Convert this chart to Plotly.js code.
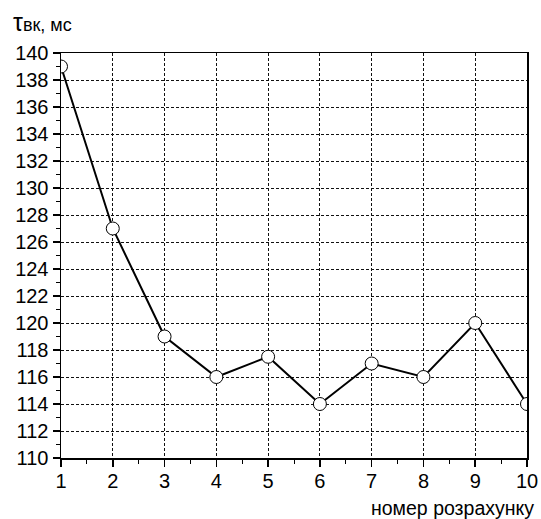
<!DOCTYPE html>
<html>
<head>
<meta charset="utf-8">
<script src="https://cdn.plot.ly/plotly-3.0.1.min.js"></script>
<style>
  html, body { margin: 0; padding: 0; background: #fff; }
  #chart { width: 541px; height: 519px; }
</style>
</head>
<body>
<div id="chart"></div>
<script>
// Calculation number and the corresponding τвк value (ms)
const calcNumber = [1, 2, 3, 4, 5, 6, 7, 8, 9, 10];
const tauMs = [139, 127, 119, 116, 117.5, 114, 117, 116, 120, 114];

const xTitle = 'номер розрахунку';
const yTitle = '<span style="font-size:25px">τ</span>вк, мс';

const font = 'Liberation Sans, Arial, sans-serif';

const trace = {
  x: calcNumber,
  y: tauMs,
  type: 'scatter',
  mode: 'lines+markers',
  line: { color: '#000', width: 2 },
  marker: {
    symbol: 'circle',
    size: 13,
    color: '#fff',
    line: { color: '#000', width: 1 }
  },
  cliponaxis: true,
  hoverinfo: 'skip'
};

const axisCommon = {
  showline: true,
  linecolor: '#000',
  linewidth: 1.5,
  mirror: true,
  ticks: 'outside',
  ticklen: 7,
  tickwidth: 1.5,
  tickcolor: '#000',
  showgrid: true,
  gridcolor: '#111',
  griddash: '3px,2px',
  gridwidth: 1,
  zeroline: false,
  tickfont: { family: font, size: 20, color: '#000' },
  fixedrange: true
};

const layout = {
  width: 541,
  height: 519,
  margin: { l: 61, r: 14, t: 53, b: 61 },
  paper_bgcolor: '#fff',
  plot_bgcolor: '#fff',
  showlegend: false,
  xaxis: Object.assign({}, axisCommon, {
    range: [1, 10],
    tickmode: 'linear',
    tick0: 1,
    dtick: 1,
    ticklabelstandoff: -3,
    minor: { ticks: 'outside', ticklen: 4, tickwidth: 1, tickcolor: '#000', dtick: 0.5, tick0: 1, showgrid: false }
  }),
  yaxis: Object.assign({}, axisCommon, {
    range: [110, 140],
    tickmode: 'linear',
    tick0: 110,
    dtick: 2,
    minor: { ticks: 'outside', ticklen: 4, tickwidth: 1, tickcolor: '#000', dtick: 1, tick0: 110, showgrid: false }
  }),
  annotations: [
    {
      text: xTitle,
      xref: 'paper', yref: 'paper',
      x: 1.019, y: -0.123,
      xanchor: 'right', yanchor: 'middle',
      showarrow: false,
      font: { family: font, size: 19.5, color: '#000' }
    },
    {
      text: yTitle,
      xref: 'paper', yref: 'paper',
      x: -0.108, y: 1.077,
      xanchor: 'left', yanchor: 'middle',
      showarrow: false,
      font: { family: font, size: 18, color: '#000' }
    }
  ]
};

Plotly.newPlot('chart', [trace], layout, { displayModeBar: false, staticPlot: true });
</script>
</body>
</html>
